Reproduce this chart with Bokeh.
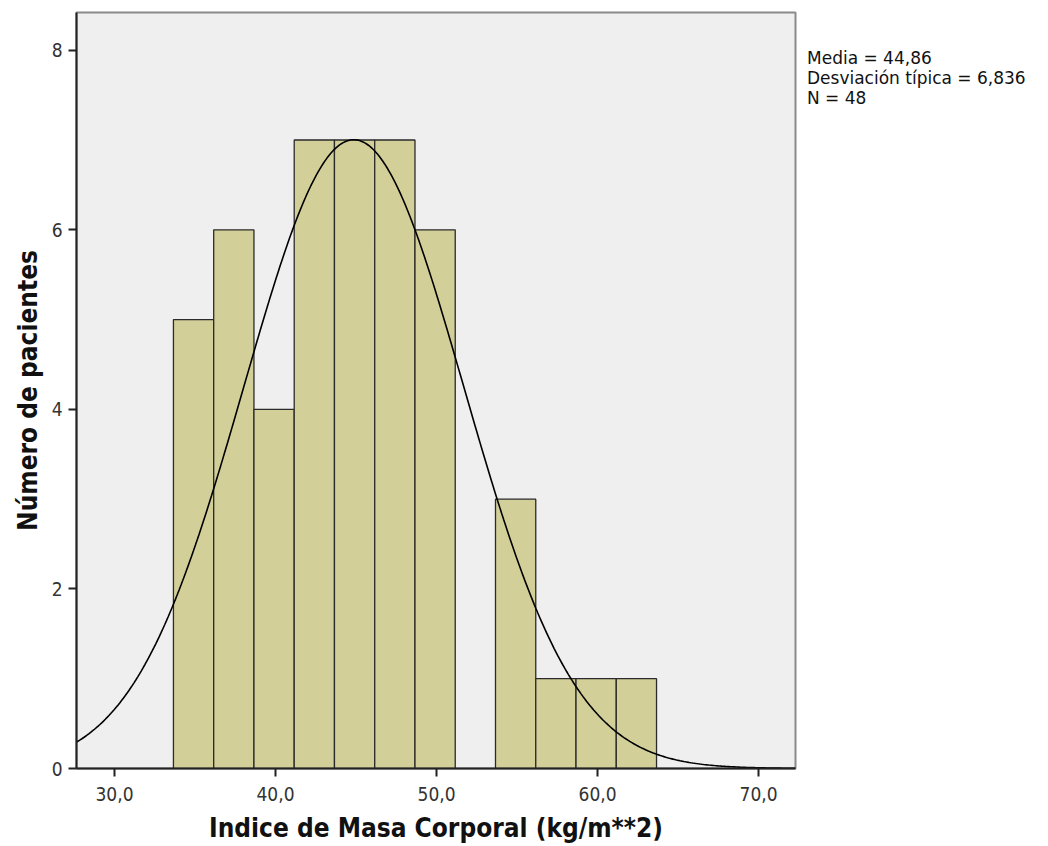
import numpy as np
from bokeh.plotting import figure
from bokeh.models import Range1d, FixedTicker, Legend, LegendItem, CustomJSTickFormatter
from bokeh.embed import file_html
from bokeh.resources import INLINE

# Histogram of body mass index (bins of 2.5 kg/m^2)
bin_edges = [33.66, 36.16, 38.66, 41.16, 43.66, 46.16, 48.66, 51.16,
             53.66, 56.16, 58.66, 61.16, 63.66]
counts = [5, 6, 4, 7, 7, 7, 6, 0, 3, 1, 1, 1]

media = 44.86
desv = 6.836
n = 48
x_ticks = [30, 40, 50, 60, 70]
y_ticks = [0, 2, 4, 6, 8]

X0, X1 = 27.64, 72.29
Y0, Y1 = 0, 8.42
FONT = "DejaVu Sans Condensed"

p = figure(frame_width=719, frame_height=756, output_backend="svg", toolbar_location=None,
           x_range=Range1d(X0, X1), y_range=Range1d(Y0, Y1),
           min_border_left=76, min_border_right=253, min_border_top=12,
           min_border_bottom=78)
p.background_fill_color = "#efefef"
p.border_fill_color = "white"
p.outline_line_color = "#8a8a8a"
p.outline_line_width = 2
p.xgrid.visible = False
p.ygrid.visible = False

left = bin_edges[:-1]
right = bin_edges[1:]
keep = [i for i, c in enumerate(counts) if c > 0]
p.quad(left=[left[i] for i in keep], right=[right[i] for i in keep],
       bottom=0, top=[counts[i] for i in keep],
       fill_color="#d3cf98", line_color="#2b2b2b", line_width=1.3)

# Normal curve scaled to counts
bw = bin_edges[1] - bin_edges[0]
xs = np.linspace(X0, X1, 400)
ys = n * bw * np.exp(-0.5 * ((xs - media) / desv) ** 2) / (desv * np.sqrt(2 * np.pi))
p.line(xs, ys, line_color="black", line_width=1.6)

fmt = CustomJSTickFormatter(code="return tick.toFixed(1).replace('.', ',');")
p.xaxis.ticker = FixedTicker(ticks=x_ticks)
p.xaxis.formatter = fmt
p.yaxis.ticker = FixedTicker(ticks=y_ticks)

for ax in (p.xaxis[0], p.yaxis[0]):
    ax.axis_line_color = "#222222"
    ax.axis_line_width = 2
    ax.major_tick_line_color = "#222222"
    ax.major_tick_line_width = 2
    ax.major_tick_out = 8
    ax.major_tick_in = 0
    ax.minor_tick_line_color = None
    ax.major_label_text_font = FONT
    ax.major_label_text_font_size = "19px"
    ax.major_label_text_color = "#333333"
    ax.axis_label_text_font = FONT
    ax.axis_label_text_font_style = "bold"
    ax.axis_label_text_font_size = "26px"
    ax.axis_label_text_color = "#111111"

p.xaxis.axis_label = "Indice de Masa Corporal (kg/m**2)"
p.xaxis.major_label_standoff = 10
p.xaxis.axis_label_standoff = 9
p.yaxis.axis_label = "Número de pacientes"
p.yaxis.major_label_standoff = 6
p.yaxis.axis_label_standoff = 6

# Summary statistics, shown as a text-only key to the right of the frame
stats = [f"Media = {media:.2f}".replace(".", ","),
         f"Desviación típica = {desv:.3f}".replace(".", ","),
         f"N = {n}"]
blank = p.line([], [], line_alpha=0)
legend = Legend(items=[LegendItem(label=s, renderers=[blank]) for s in stats],
                location="top_left", margin=12, padding=0, spacing=0,
                glyph_width=0, glyph_height=19, label_standoff=0, label_height=19,
                label_text_font="DejaVu Sans", label_text_font_size="17px",
                label_text_color="#111111", border_line_color=None,
                background_fill_alpha=0, title=" ", title_text_font_size="16px",
                title_standoff=6, click_policy="none")
p.add_layout(legend, "right")

open("out.html", "w").write(file_html(p, INLINE))
